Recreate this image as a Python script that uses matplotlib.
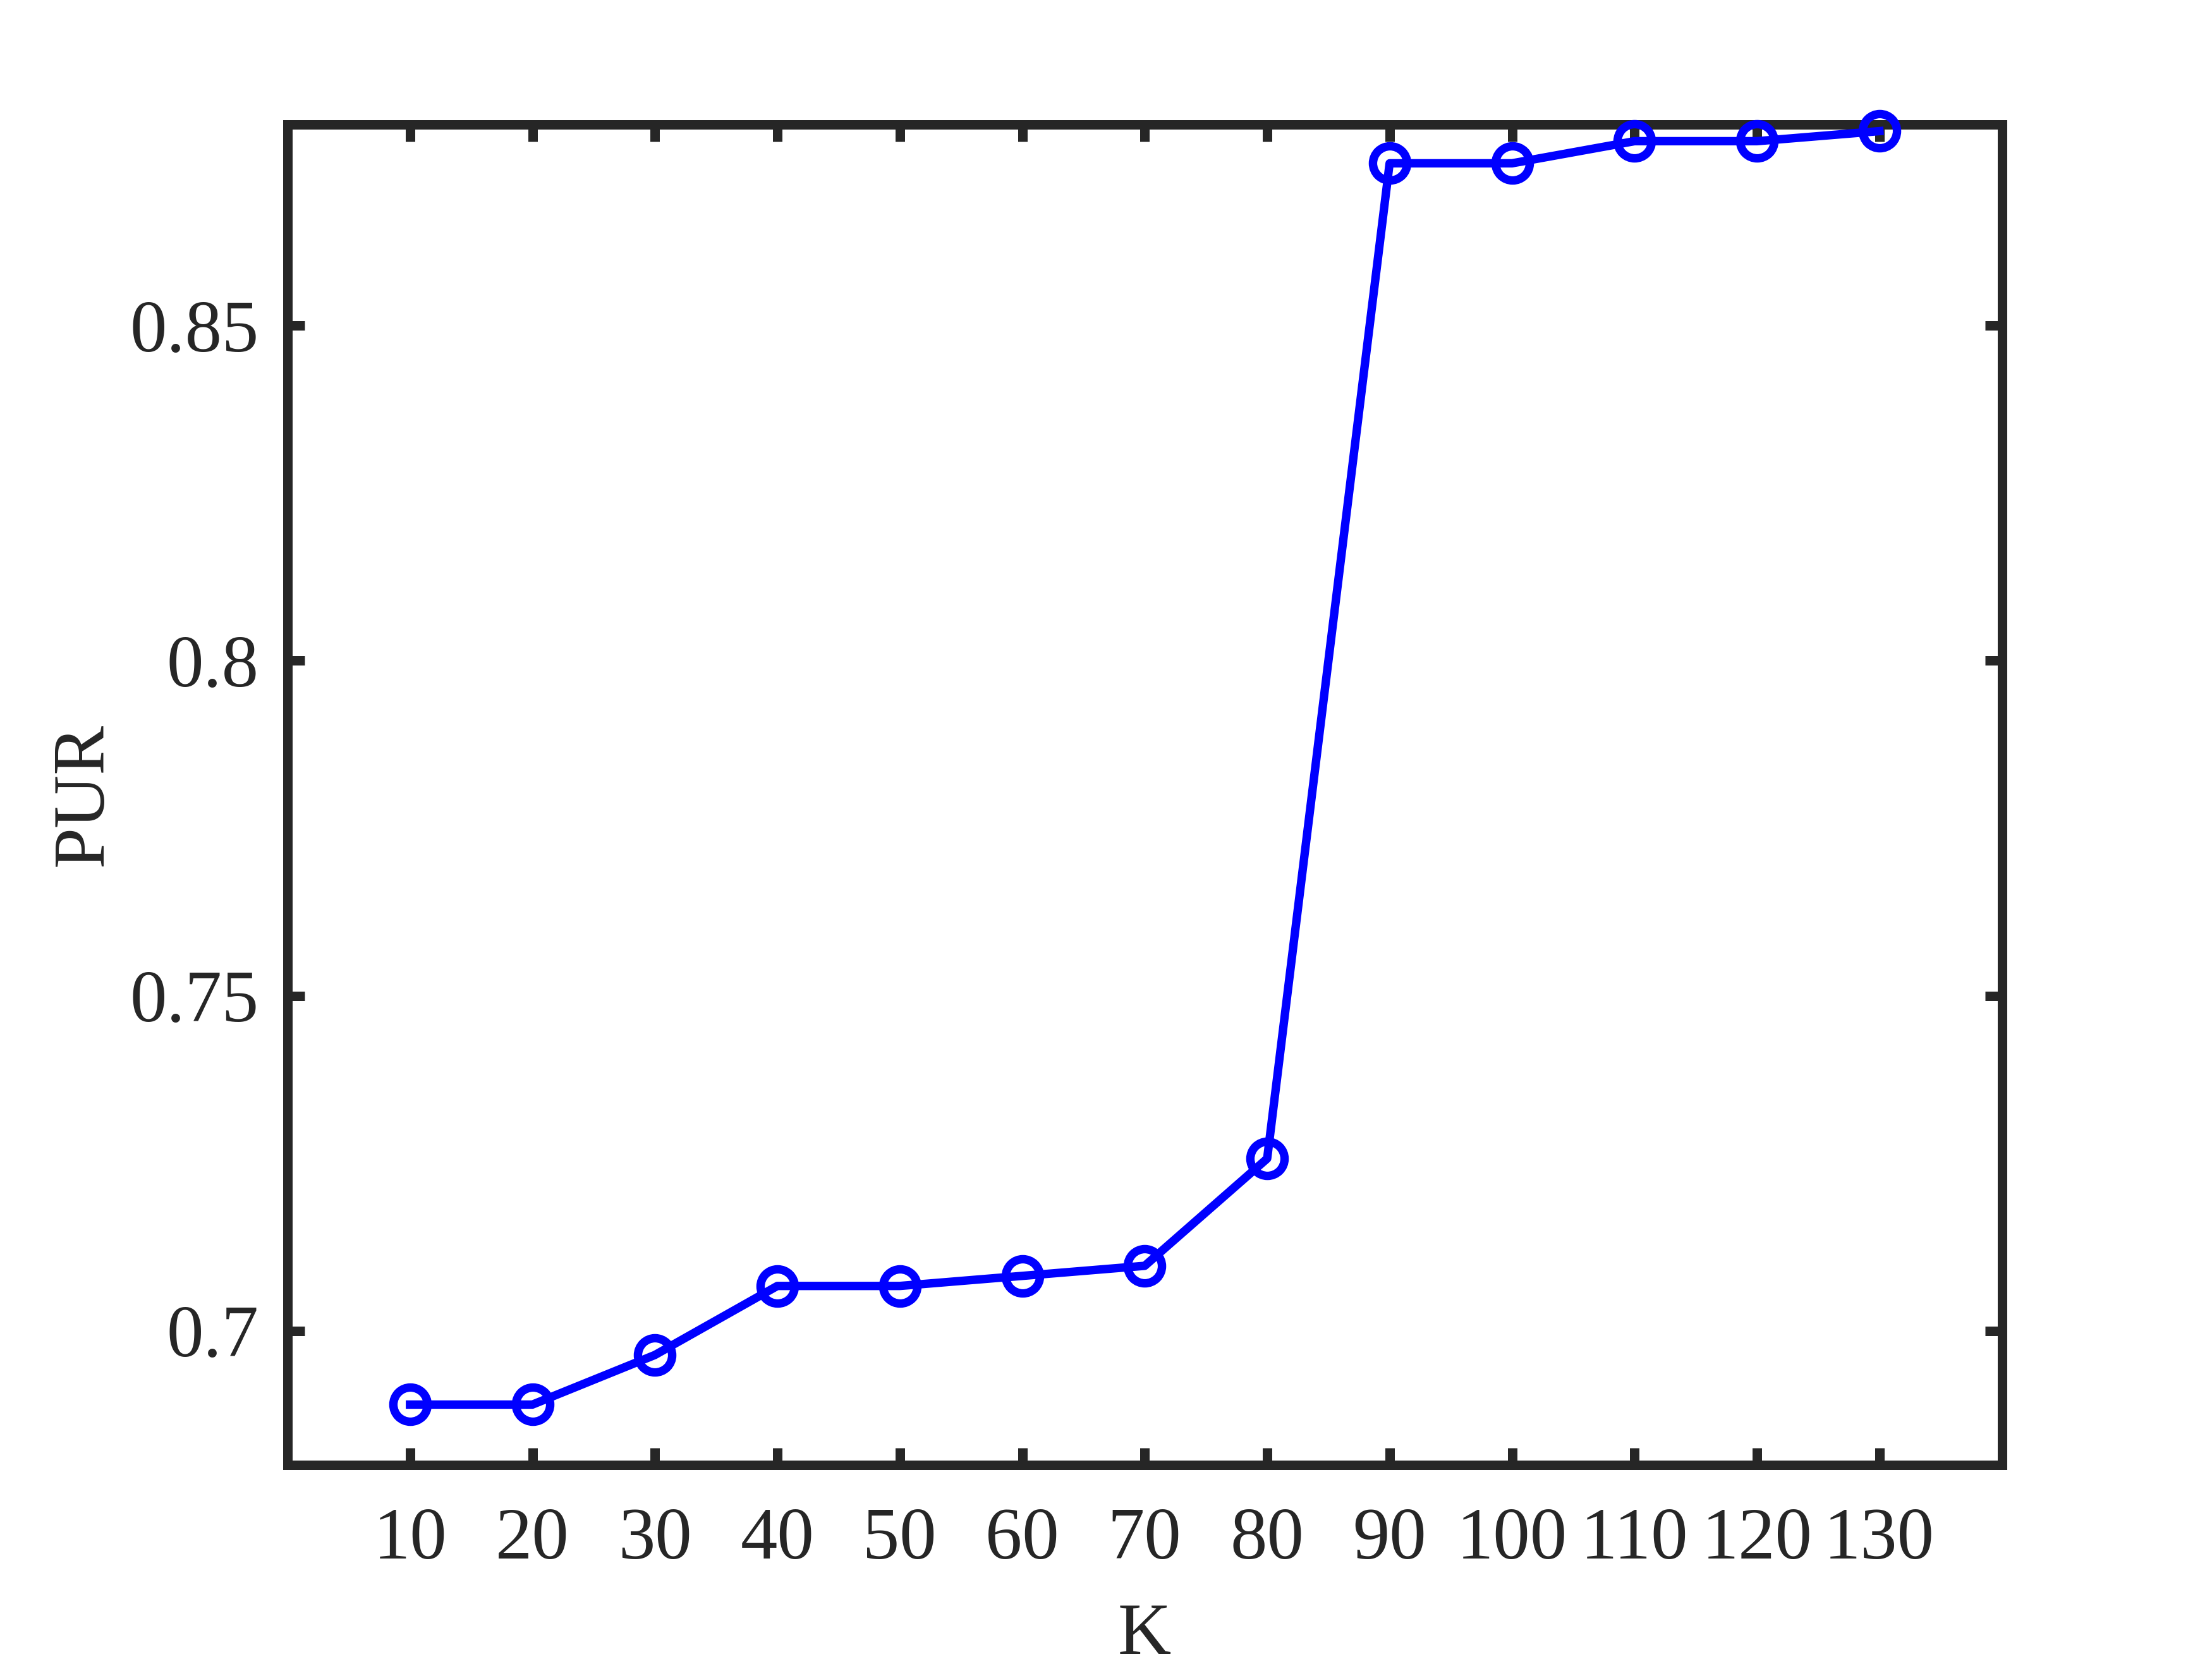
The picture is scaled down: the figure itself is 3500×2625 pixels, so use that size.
import numpy as np
import matplotlib
matplotlib.use("Agg")
from matplotlib import pyplot as plt

# data
k_vals = [10, 20, 30, 40, 50, 60, 70, 80, 90, 100, 110, 120, 130]
pur = [0.689, 0.689, 0.6964, 0.7067, 0.7067, 0.7082, 0.7097, 0.7257,
       0.8742, 0.8742, 0.8775, 0.8775, 0.8790]
yticks = [0.7, 0.75, 0.8, 0.85]
ytick_labels = ['0.7', '0.75', '0.8', '0.85']

plt.rcParams['font.family'] = ['Liberation Serif', 'DejaVu Serif']
axcol = '#262626'

fig = plt.figure(figsize=(3500 / 300, 2625 / 300), dpi=300)
ax = fig.add_axes([0.13, 0.117, 0.775, 0.808])

ax.plot(k_vals, pur, color='#0000ff', lw=3.2, marker='o', ms=13,
        mew=3.2, mfc='none', mec='#0000ff', clip_on=False, zorder=3)

ax.set_xlim(0, 140)
ax.set_ylim(0.68, 0.88)
ax.set_xticks(k_vals)
ax.set_yticks(yticks)
ax.set_yticklabels(ytick_labels)

for s in ax.spines.values():
    s.set_linewidth(3.6)
    s.set_color(axcol)
ax.tick_params(direction='in', length=6.5, width=3.6, colors=axcol,
               labelsize=28, top=True, right=True)
ax.tick_params(axis='x', pad=16)
ax.tick_params(axis='y', pad=11)

ax.set_xlabel('K', fontsize=28, color=axcol, labelpad=11)
ax.set_ylabel('PUR', fontsize=28, color=axcol, labelpad=4.5)

fig.savefig('out.png', dpi=300)
